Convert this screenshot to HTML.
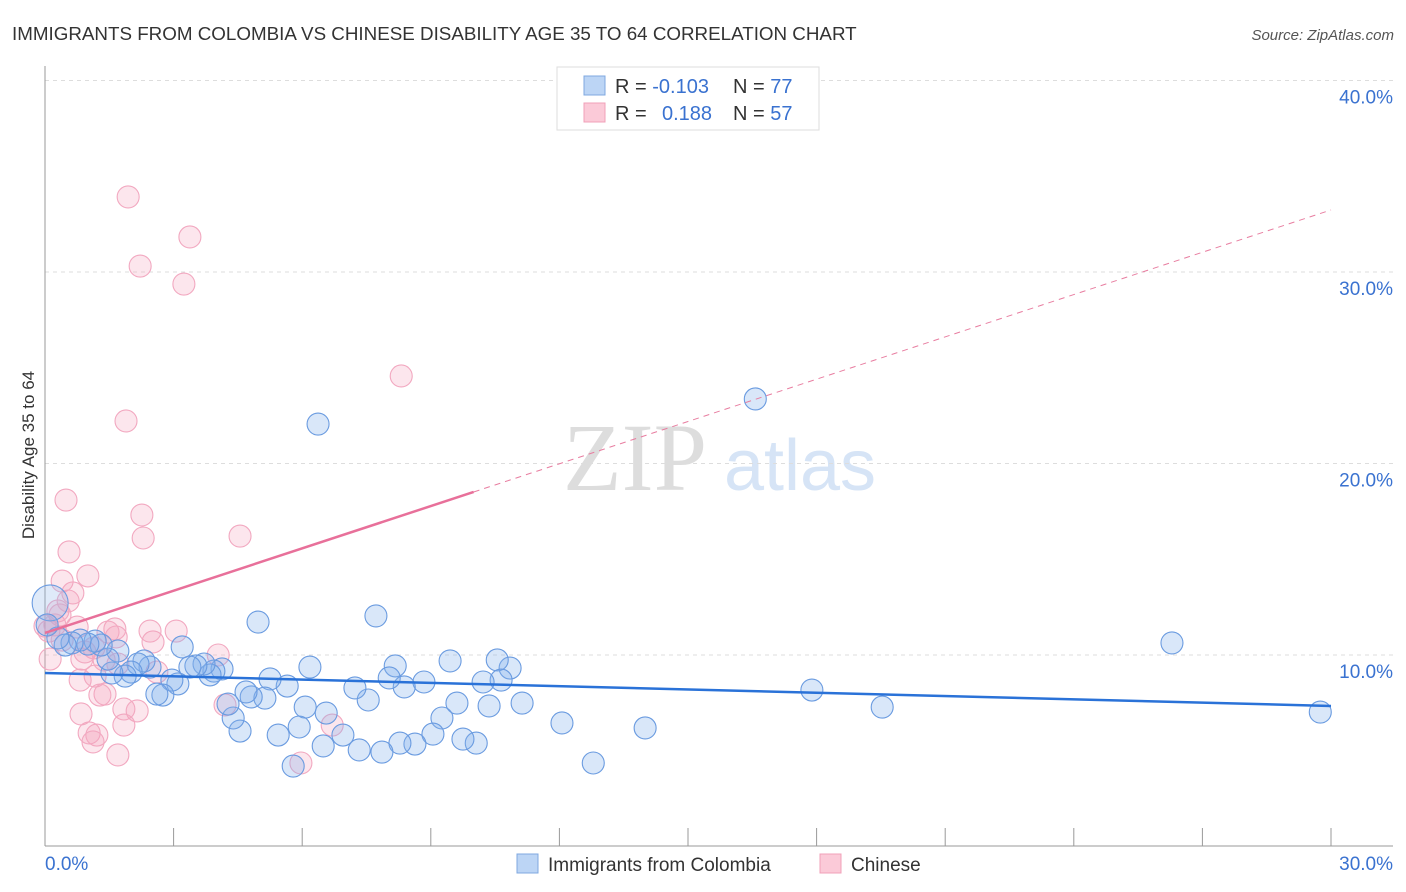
<!DOCTYPE html>
<html><head><meta charset="utf-8"><style>
body{margin:0;background:#fff;font-family:"Liberation Sans",sans-serif;}
svg{display:block}
</style></head><body>
<svg id="chart" width="1406" height="892">
<text x="12" y="40" font-size="18.8" fill="#333">IMMIGRANTS FROM COLOMBIA VS CHINESE DISABILITY AGE 35 TO 64 CORRELATION CHART</text>
<text x="1394" y="40" font-size="15" fill="#555" font-style="italic" text-anchor="end">Source: ZipAtlas.com</text>
<g>
<text x="635" y="490" font-size="96" font-family="Liberation Serif,serif" fill="#ddd" text-anchor="middle">ZIP</text>
<text x="800" y="490" font-size="72" fill="#d6e4f6" text-anchor="middle">atlas</text>
</g>
<g id="grid"></g>
<g id="axes"></g>
<g id="marks"></g>
<text transform="translate(34,455) rotate(-90)" font-size="17" fill="#333" text-anchor="middle">Disability Age 35 to 64</text>
<g>
<rect x="557" y="67" width="262" height="63" fill="#fff" stroke="#ddd"/>
<rect x="584" y="76" width="21" height="19" fill="#bcd5f5" stroke="#7fa8e0"/>
<rect x="584" y="103" width="21" height="19" fill="#fbcad8" stroke="#f0a0b8"/>
<text x="615" y="93" font-size="20" fill="#333">R = <tspan fill="#3a72d0">-0.103</tspan></text>
<text x="733" y="93" font-size="20" fill="#333">N = <tspan fill="#3a72d0">77</tspan></text>
<text x="615" y="120" font-size="20" fill="#333">R = <tspan x="662" fill="#3a72d0">0.188</tspan></text>
<text x="733" y="120" font-size="20" fill="#333">N = <tspan fill="#3a72d0">57</tspan></text>
</g>
<g>
<rect x="517" y="854" width="21" height="19" fill="#bcd5f5" stroke="#7fa8e0"/>
<text x="548" y="871" font-size="19" fill="#333">Immigrants from Colombia</text>
<rect x="820" y="854" width="21" height="19" fill="#fbcad8" stroke="#f0a0b8"/>
<text x="851" y="871" font-size="19" fill="#333">Chinese</text>
</g>
</svg>
<script>
const blueX=[6.37,16.57,26.29,29.75,19.53,17.89,14.0,12.79,12.06,11.13,10.85,10.55,10.64,10.22,10.36,10.06,9.75,9.61,9.45,9.26,9.05,8.84,8.63,8.38,8.28,8.17,8.03,7.86,7.72,7.54,7.23,7.33,6.95,6.56,6.49,6.18,6.07,5.93,5.79,5.65,5.44,5.25,5.13,4.97,4.81,4.69,4.55,4.39,4.27,4.13,3.94,3.85,3.71,3.52,3.38,3.20,3.10,2.96,2.75,2.61,2.45,2.31,2.17,2.01,1.87,1.70,1.56,1.47,1.31,1.17,1.00,0.82,0.63,0.47,0.30,0.12,0.05];
const blueY=[22.06,23.37,10.63,7.02,7.28,8.17,6.19,4.36,6.45,7.49,9.32,9.74,8.69,8.59,7.34,5.40,5.61,7.49,9.69,6.71,5.87,8.59,5.35,8.33,5.40,9.43,8.80,4.93,12.04,7.65,8.28,5.04,5.82,6.97,5.25,9.37,7.28,6.24,4.20,8.38,5.82,8.75,7.75,11.72,7.81,8.07,6.03,6.71,7.44,9.27,9.16,8.96,9.53,9.43,9.37,10.42,8.49,8.69,7.91,7.96,9.37,9.69,9.53,9.11,8.90,10.21,9.06,9.79,10.52,10.73,10.57,10.78,10.63,10.52,10.89,12.72,11.57];
const pinkX=[1.94,3.38,2.22,3.24,8.31,1.89,0.49,2.26,4.55,2.29,0.56,1.00,0.40,0.65,0.54,0.30,0.23,0.09,0.75,3.06,1.63,2.52,1.66,1.14,0.93,4.04,0.12,0.86,1.38,1.70,2.61,1.17,0.82,1.40,1.28,1.84,2.15,4.20,0.84,1.84,6.70,1.03,1.21,1.12,1.70,5.97,0.35,0.0,0.40,1.47,2.45];
const pinkY=[33.92,31.83,30.31,29.37,24.57,22.22,18.09,17.31,16.21,16.11,15.38,14.13,13.86,13.24,12.82,12.30,11.57,11.25,11.46,11.25,11.36,10.68,10.94,10.37,10.16,10.00,9.79,9.79,9.74,9.53,9.11,8.90,8.69,7.96,7.91,7.18,7.08,7.39,6.92,6.34,6.34,5.93,5.82,5.46,4.78,4.36,12.09,11.51,10.78,11.20,11.25];
const blueTrend=[9.06,7.34];
const pinkTrend=[11.15,33.24];
const pinkSolidEnd=10;
const xTicks=[0,3,6,9,12,15,18,21,24,27,30];
const yTicks=[10,20,30,40];
const xLabels=["0.0%","30.0%"];

const X0=45,X1=1331,Y0=846.5,PX_PER=19.15;
const sx=v=>X0+(v/30)*(X1-X0);
const sy=v=>Y0-v*PX_PER;
const NS="http://www.w3.org/2000/svg";
function mk(tag,parent,attrs){const e=document.createElementNS(NS,tag);for(const k in attrs)e.setAttribute(k,attrs[k]);parent.appendChild(e);return e;}
const grid=document.getElementById('grid'),axes=document.getElementById('axes'),marks=document.getElementById('marks');
yTicks.forEach(t=>{
  const l=mk('line',grid,{x1:45,x2:1393,y1:sy(t),y2:sy(t),stroke:'#ddd','stroke-dasharray':'4,4'});
  
  
  const tx=mk('text',axes,{x:1393,y:sy(t)+23,'font-size':19,fill:'#3a72d0','text-anchor':'end'});
  tx.textContent=t+'.0%';
  
  
});
const ya=mk('line',axes,{x1:45,x2:45,y1:66,y2:846,stroke:'#999'});


const xa=mk('line',axes,{x1:45,x2:1393,y1:846,y2:846,stroke:'#999'});


xTicks.forEach(t=>{
  const l=mk('line',axes,{x1:sx(t),x2:sx(t),y1:828,y2:846,stroke:'#999'});
  
  
});
[[0,'start',45],[30,'end',1393]].forEach((d,i)=>{
  const tx=mk('text',axes,{x:d[2],y:870,'font-size':19,fill:'#3a72d0','text-anchor':d[1]});
  tx.textContent=xLabels[i];
  
  
});
function pts(xs,ys,fill,stroke,name){
  xs.forEach((x,i)=>{
    const big=(name==='colombia-point'&&ys[i]>12.5&&x<0.5);
    const c=mk('circle',marks,{cx:sx(x),cy:sy(ys[i]),r:big?18:11,fill:big?'rgba(150,185,235,0.3)':fill,stroke:stroke,'stroke-width':1.1});
    
    
  });
}
pts(pinkX,pinkY,'rgba(245,165,190,0.28)','#f2a8c0','chinese-point');
pts(blueX,blueY,'rgba(130,175,235,0.3)','#6a9be0','colombia-point');
const pAt=x=>pinkTrend[0]+(pinkTrend[1]-pinkTrend[0])*x/30;
const pd=mk('line',marks,{x1:sx(pinkSolidEnd),y1:sy(pAt(pinkSolidEnd)),x2:sx(30),y2:sy(pinkTrend[1]),stroke:'#e87da0','stroke-width':1,'stroke-dasharray':'6,5'});


const ps=mk('line',marks,{x1:sx(0),y1:sy(pinkTrend[0]),x2:sx(pinkSolidEnd),y2:sy(pAt(pinkSolidEnd)),stroke:'#e8709a','stroke-width':2.5});


const bl=mk('line',marks,{x1:sx(0),y1:sy(blueTrend[0]),x2:sx(30),y2:sy(blueTrend[1]),stroke:'#2a72d8','stroke-width':2.5});


</script>
</body></html>
